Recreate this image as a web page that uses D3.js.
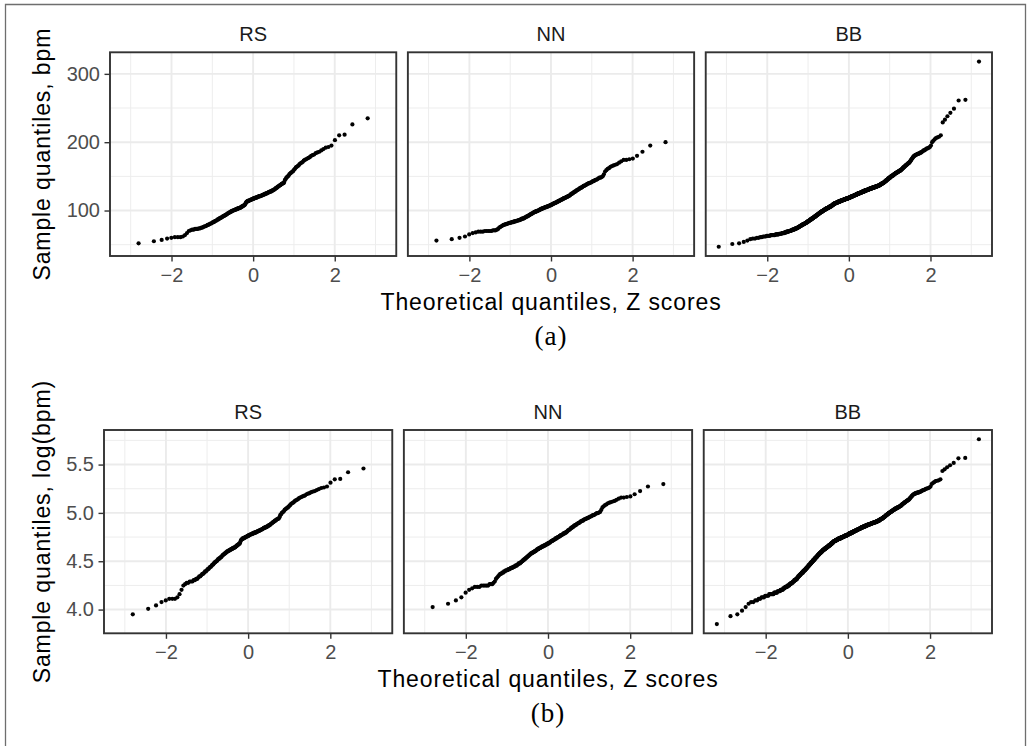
<!DOCTYPE html>
<html><head><meta charset="utf-8">
<script src="https://cdn.jsdelivr.net/npm/d3@7"></script>
<style>body{margin:0;background:#fff}svg{display:block}</style>
</head><body><svg id="chart" width="1031" height="746"></svg>
<script>
// ---------------- DATA ----------------
const groups = ["RS", "NN", "BB"];

// sorted heart-rate samples, bpm
const rsBpm = [52,55,57,59,60,
61,61,61,62,64,67,70,71,72,72,73,73,73,74,
74,75,75,76,77,77,78,79,79,80,81,81,82,
83,83,84,85,85,86,87,87,88,89,89,90,90,91,
92,92,93,93,94,94,95,96,96,97,97,98,98,99,99,100,
100,100,101,101,101,102,102,102,103,103,103,104,104,104,105,105,106,106,
107,107,108,108,109,111,112,113,113,114,114,114,115,115,115,116,116,116,117,117,
117,118,118,118,119,119,119,119,120,120,120,121,121,121,121,122,122,122,123,123,
123,124,124,124,125,125,125,126,126,127,127,127,128,128,128,129,129,130,130,
131,131,132,133,133,134,135,135,136,137,137,138,139,139,140,140,
142,145,146,148,149,150,151,153,154,155,156,157,158,160,
161,163,164,165,166,168,169,170,171,173,
174,175,176,177,178,180,181,182,
184,185,186,188,190,
192,193,195,203,210,211,226,235];

const nnBpm = [56,58,60,62,65,
67,68,69,69,69,70,70,70,70,70,71,71,71,72,73,75,76,77,78,79,79,80,80,81,81,82,82,
82,83,83,83,84,84,84,85,85,85,86,86,86,87,
87,88,88,88,89,89,90,90,
91,91,92,92,93,93,94,94,95,95,96,96,97,
97,98,98,98,99,99,99,100,100,100,101,101,102,102,
102,103,103,103,104,104,104,105,105,105,105,106,106,106,107,107,107,108,108,
108,109,109,109,110,110,111,111,111,112,112,112,113,113,114,114,114,115,
115,116,116,116,117,117,118,118,118,119,119,120,120,120,121,121,122,
122,123,124,124,125,125,126,127,127,128,128,129,130,
130,131,131,132,133,133,134,134,135,136,136,137,137,138,139,
139,140,140,141,141,142,143,
143,144,145,145,146,147,148,
148,149,150,
153,157,159,161,162,164,165,166,167,168,170,172,
174,174,175,176,180,186,195,200];

// BB sample as a tally: [bpm, number of observations]
const bbTally = [[47,1],[51,1],[52,1],[54,1],[56,1],[58,1],[59,2],[60,2],[61,2],[62,3],
[63,4],[64,6],[65,5],[66,5],[67,5],[68,4],[69,5],[70,5],[71,4],[72,5],
[73,4],[74,5],[75,4],[76,3],[77,4],[78,4],[79,4],[80,5],[81,4],[82,5],
[83,4],[84,4],[85,4],[86,4],[87,5],[88,4],[89,5],[90,4],[91,5],[92,4],
[93,5],[94,5],[95,4],[96,5],[97,5],[98,6],[99,6],[100,5],
[101,7],[102,7],[103,7],[104,8],[105,7],[106,7],[107,6],[108,6],[109,7],[110,6],
[111,11],[112,10],[113,11],[114,12],[115,12],[116,12],[117,13],[118,12],
[119,10],[120,11],[121,10],[122,10],[123,11],[124,10],[125,10],[126,11],
[127,10],[128,11],[129,11],[130,10],[131,11],[132,11],[133,10],[134,11],[135,11],
[136,9],[137,6],[138,5],[139,6],[140,6],
[141,4],[142,4],[143,4],[144,3],[145,4],[146,3],[147,4],[148,4],
[149,3],[150,4],[151,4],[152,3],[153,4],[154,3],[155,4],[156,4],[157,3],[158,4],[159,3],
[160,2],[161,2],[162,2],[163,2],[164,2],[165,2],[166,2],[167,2],[168,2],[169,2],[170,2],
[171,1],[172,1],[173,1],[174,1],[175,1],[176,1],[177,1],[178,1],[179,1],
[180,2],[181,2],[182,2],[183,3],[184,2],
[185,2],[186,1],[187,1],[188,2],[189,1],[190,1],[191,2],[192,1],[193,1],
[195,1],[200,1],[202,1],[204,1],[206,1],[207,1],[208,1],[210,1],
[229,1],[233,1],[238,1],[243,1],[249,1],[261,1],[262,1],[318,1]];

const xTicks = [-2, 0, 2];
const xMinor = [-3, -1, 1, 3];
const bpmTicks = [100, 200, 300];
const bpmMinor = [50, 150, 250];
const logTicks = [4.0, 4.5, 5.0, 5.5];
const logMinor = [3.75, 4.25, 4.75, 5.25, 5.75];

// ---------------- helpers ----------------
const bbBpm = bbTally.flatMap(([v, c]) => Array(c).fill(v));
const samples = {RS: rsBpm, NN: nnBpm, BB: bbBpm};

function qnorm(p) {
  const a=[-3.969683028665376e+01,2.209460984245205e+02,-2.759285104469687e+02,1.383577518672690e+02,-3.066479806614716e+01,2.506628277459239e+00];
  const b=[-5.447609879822406e+01,1.615858368580409e+02,-1.556989798598866e+02,6.680131188771972e+01,-1.328068155288572e+01];
  const c=[-7.784894002430293e-03,-3.223964580411365e-01,-2.400758277161838e+00,-2.549671010506780e+00,4.374664141464968e+00,2.938163982698783e+00];
  const d=[7.784695709041462e-03,3.224671290700398e-01,2.445134137142996e+00,3.754408661907416e+00];
  const pl=0.02425;
  if (p < pl) { const q=Math.sqrt(-2*Math.log(p)); return (((((c[0]*q+c[1])*q+c[2])*q+c[3])*q+c[4])*q+c[5])/((((d[0]*q+d[1])*q+d[2])*q+d[3])*q+1); }
  if (p <= 1-pl) { const q=p-0.5, r=q*q; return (((((a[0]*r+a[1])*r+a[2])*r+a[3])*r+a[4])*r+a[5])*q/(((((b[0]*r+b[1])*r+b[2])*r+b[3])*r+b[4])*r+1); }
  const q=Math.sqrt(-2*Math.log(1-p)); return -(((((c[0]*q+c[1])*q+c[2])*q+c[3])*q+c[4])*q+c[5])/((((d[0]*q+d[1])*q+d[2])*q+d[3])*q+1);
}
// ggplot-style stat_qq: ppoints(n) with a = 0.5 for n > 10
function qq(values, f) {
  const s = d3.sort(values.map(f));
  const n = s.length, a = n <= 10 ? 3/8 : 0.5;
  return s.map((y, i) => ({x: qnorm((i + 1 - a) / (n + 1 - 2*a)), y}));
}
function expand(ext) { const r = ext[1]-ext[0]; return [ext[0]-0.05*r, ext[1]+0.05*r]; }

// ---------------- drawing ----------------
const W = 1031, H = 746;
const svg = d3.select("#chart");
svg.append("rect").attr("width", W).attr("height", H).attr("fill", "#fff");
svg.append("path").attr("d", "M5.5,760V4.5H1025.5V760")
  .attr("fill", "none").attr("stroke", "#6e6e6e").attr("stroke-width", 1.3);

const SANS = "'Liberation Sans', Arial, Helvetica, sans-serif";
const SERIF = "'Liberation Serif', 'Times New Roman', Times, serif";

const rows = [
  {top: 52.3, bottom: 256, left: 110, right: 992, f: v => v, ticks: bpmTicks, minor: bpmMinor,
   fmt: d3.format("d"), ylab: "Sample quantiles, bpm", caption: "(a)"},
  {top: 430, bottom: 633.3, left: 104, right: 992, f: Math.log, ticks: logTicks, minor: logMinor,
   fmt: d3.format(".1f"), ylab: "Sample quantiles, log(bpm)", caption: "(b)"}
];
const gap = 11.6;

// shared theoretical-quantile domain
const allQ = groups.flatMap(g => qq(samples[g], v => v).map(d => d.x));
const xDom = expand(d3.extent(allQ));

rows.forEach(row => {
  const pw = (row.right - row.left - 2*gap) / 3;
  const ph = row.bottom - row.top;
  const data = groups.map(g => qq(samples[g], row.f));
  const yDom = expand(d3.extent(data.flat(), d => d.y));
  const x = d3.scaleLinear().domain(xDom).range([0, pw]);
  const y = d3.scaleLinear().domain(yDom).range([ph, 0]);
  const inY = v => v >= yDom[0] && v <= yDom[1];

  groups.forEach((g, gi) => {
    const px = row.left + gi * (pw + gap);
    const p = svg.append("g").attr("transform", `translate(${px},${row.top})`);
    p.append("rect").attr("width", pw).attr("height", ph).attr("fill", "#fff");
    // minor grid
    p.selectAll(".mx").data(xMinor).join("line")
      .attr("x1", d => x(d)).attr("x2", d => x(d)).attr("y1", 0).attr("y2", ph)
      .attr("stroke", "#ededed").attr("stroke-width", 1);
    p.selectAll(".my").data(row.minor.filter(inY)).join("line")
      .attr("y1", d => y(d)).attr("y2", d => y(d)).attr("x1", 0).attr("x2", pw)
      .attr("stroke", "#ededed").attr("stroke-width", 1);
    // major grid
    p.selectAll(".gx").data(xTicks).join("line")
      .attr("x1", d => x(d)).attr("x2", d => x(d)).attr("y1", 0).attr("y2", ph)
      .attr("stroke", "#ebebeb").attr("stroke-width", 1.9);
    p.selectAll(".gy").data(row.ticks).join("line")
      .attr("y1", d => y(d)).attr("y2", d => y(d)).attr("x1", 0).attr("x2", pw)
      .attr("stroke", "#ebebeb").attr("stroke-width", 1.9);
    // points
    p.append("g").selectAll("circle").data(data[gi]).join("circle")
      .attr("cx", d => x(d.x)).attr("cy", d => y(d.y)).attr("r", 2.1).attr("fill", "#000");
    // border
    p.append("rect").attr("width", pw).attr("height", ph)
      .attr("fill", "none").attr("stroke", "#333").attr("stroke-width", 1.9);
    // x axis
    const ax = p.append("g").attr("transform", `translate(0,${ph})`)
      .call(d3.axisBottom(x).tickValues(xTicks).tickFormat(d3.format("d")).tickSize(5.5).tickPadding(6.3));
    ax.select(".domain").remove();
    ax.selectAll(".tick line").attr("stroke", "#333").attr("stroke-width", 1.4);
    ax.selectAll(".tick text").attr("font-family", SANS).attr("font-size", 20).attr("fill", "#4d4d4d");
    // y axis on first panel
    if (gi === 0) {
      const ay = p.append("g")
        .call(d3.axisLeft(y).tickValues(row.ticks).tickFormat(row.fmt).tickSize(5.5).tickPadding(4.5));
      ay.select(".domain").remove();
      ay.selectAll(".tick line").attr("stroke", "#333").attr("stroke-width", 1.4);
      ay.selectAll(".tick text").attr("font-family", SANS).attr("font-size", 20).attr("fill", "#4d4d4d");
    }
    // strip label
    p.append("text").attr("x", pw/2).attr("y", -11).attr("text-anchor", "middle")
      .attr("font-family", SANS).attr("font-size", 20).attr("fill", "#1a1a1a").text(g);
  });

  const cx = (row.left + row.right) / 2;
  svg.append("text").attr("transform", `translate(50,${(row.top+row.bottom)/2}) rotate(-90)`)
    .attr("text-anchor", "middle").attr("font-family", SANS).attr("font-size", 23)
    .attr("letter-spacing", 0.9).attr("fill", "#000").text(row.ylab);
  svg.append("text").attr("x", cx).attr("y", row.bottom + 53.5).attr("text-anchor", "middle")
    .attr("font-family", SANS).attr("font-size", 23).attr("letter-spacing", 0.9)
    .attr("fill", "#000").text("Theoretical quantiles, Z scores");
  svg.append("text").attr("x", cx).attr("y", row.bottom + 89).attr("text-anchor", "middle")
    .attr("font-family", SERIF).attr("font-size", 27).attr("letter-spacing", 1)
    .attr("fill", "#000").text(row.caption);
});
</script></body></html>
